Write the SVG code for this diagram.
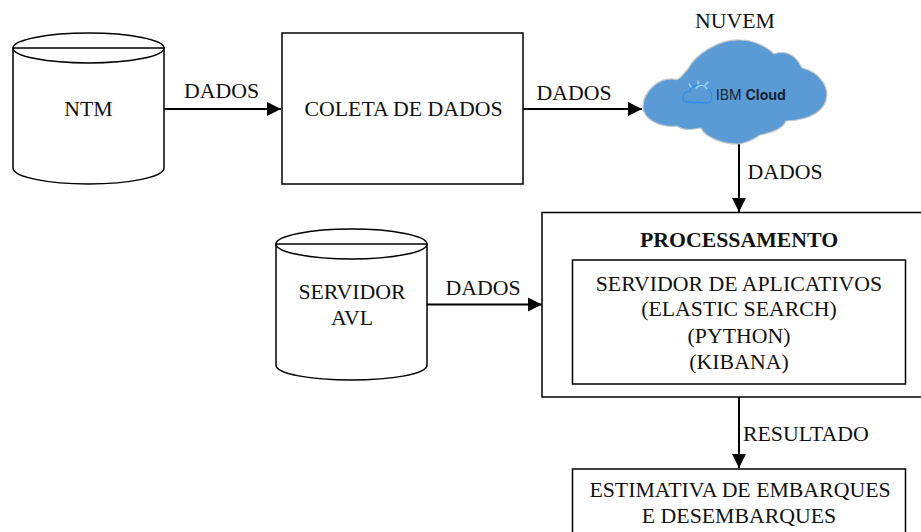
<svg xmlns="http://www.w3.org/2000/svg" width="921" height="532" viewBox="0 0 921 532">
<style>
.s{fill:#fff;stroke:#000;stroke-width:1.5}
.c{fill:none;stroke:#000;stroke-width:2}
text{font-family:"Liberation Serif","Times New Roman",serif;font-size:21.800px;fill:#111;text-anchor:middle}
.l{text-anchor:start}
</style>
<defs>
<marker id="a" markerUnits="userSpaceOnUse" markerWidth="15" markerHeight="15" refX="14" refY="7.500" orient="auto"><path d="M0,0.500 14,7.500 0,14.500Z" fill="#000"/></marker>
</defs>
<rect width="921" height="532" fill="#fff"/>
<g id="connectors">
<path class="c" d="M164,109H281" marker-end="url(#a)"/>
<path class="c" d="M523,109H642" marker-end="url(#a)"/>
<path class="c" d="M739,143V212" marker-end="url(#a)"/>
<path class="c" d="M427,304.500H542" marker-end="url(#a)"/>
<path class="c" d="M739,397V468" marker-end="url(#a)"/>
</g>
<g id="edge-labels">
<text x="221.500" y="98">DADOS</text>
<text x="574" y="100">DADOS</text>
<text x="785" y="179">DADOS</text>
<text x="483" y="295">DADOS</text>
<text class="l" x="743" y="441">RESULTADO</text>
</g>
<g id="ntm">
<path class="s" d="M13,48V168C13,177 48,184 88.500,184S164,177 164,168V48Z"/>
<ellipse class="s" cx="88.500" cy="48" rx="75.500" ry="15"/>
<path class="s" d="M13,48H164"/>
<text x="88.500" y="116">NTM</text>
</g>
<g id="coleta">
<rect class="s" x="282" y="33" width="241" height="151"/>
<text x="403.500" y="116">COLETA DE DADOS</text>
</g>
<g id="nuvem">
<text x="735" y="28">NUVEM</text>
<path d="M643,107C643,92 658,78 673,79C680,82 684,72 688,69C695,55 718,39 740,40C756,40 768,48 774,54C788,49 797,58 802,68C820,72 827,86 827,95C826,110 812,120 786,121C782,130 770,133 760,135C752,141 742,144 737,144C722,144 705,137 701,128C692,130 682,130 677,126C660,128 643,119 643,107Z" fill="#5b9bd5" stroke="#c8c8c8" stroke-width="1.200"/>
<g fill="none" stroke-linecap="round">
<path d="M686,102C681,102 682,91 689,92C692,84 703,83 707,89C714,90 712,103 708,103Z" stroke="#2f8fee" stroke-width="1.300"/>
<path d="M696,88C700,84 705,85 707,89M698,84V81M705,85L708,82M691,87L689,84" stroke="#a5e2f5" stroke-width="1.200"/>
</g>
<text class="l" x="716" y="100" style="font-family:Inter,'Liberation Sans',sans-serif;font-size:14px;fill:#1a2533">IBM <tspan font-weight="700">Cloud</tspan></text>
</g>
<g id="avl">
<path class="s" d="M276,244V365C276,374 311,380 351.500,380S427,374 427,365V244Z"/>
<ellipse class="s" cx="351.500" cy="244" rx="75.500" ry="15"/>
<path class="s" d="M276,244H427"/>
<text x="352" y="299">SERVIDOR</text>
<text x="352" y="325">AVL</text>
</g>
<g id="processamento">
<rect class="s" x="542" y="212.500" width="385" height="184.500"/>
<text x="739" y="247" font-weight="700">PROCESSAMENTO</text>
<rect class="s" x="572.500" y="260" width="333" height="124"/>
<text x="739" y="291">SERVIDOR DE APLICATIVOS</text>
<text x="739" y="316">(ELASTIC SEARCH)</text>
<text x="739" y="343">(PYTHON)</text>
<text x="739" y="369">(KIBANA)</text>
</g>
<g id="estimativa">
<rect class="s" x="572.500" y="469" width="333" height="80"/>
<text x="740" y="497">ESTIMATIVA DE EMBARQUES</text>
<text x="739" y="523">E DESEMBARQUES</text>
</g>
</svg>
